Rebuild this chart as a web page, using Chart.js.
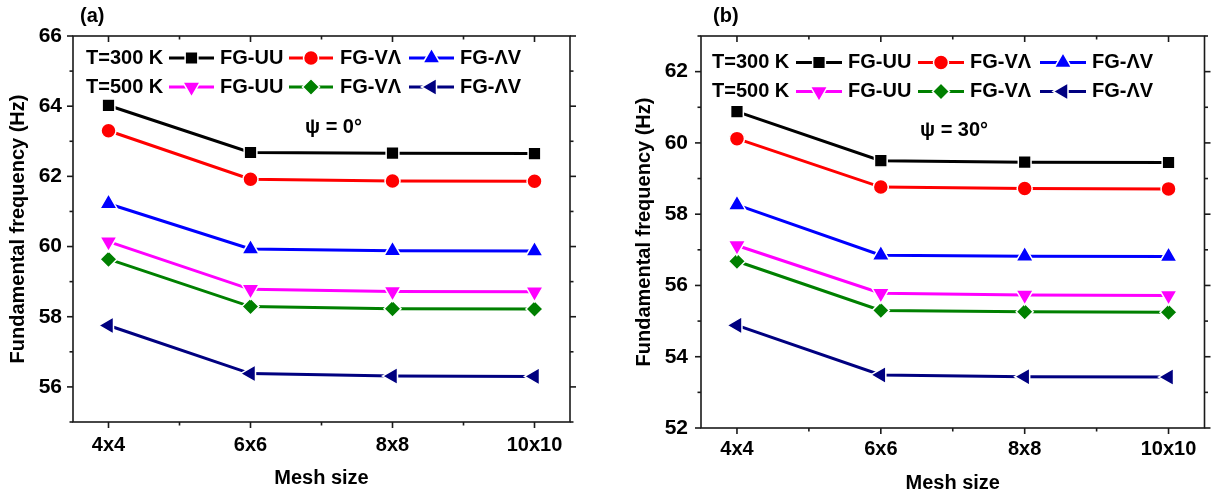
<!DOCTYPE html>
<html><head><meta charset="utf-8">
<script src="https://cdn.jsdelivr.net/npm/chart.js@4.4.0/dist/chart.umd.min.js"></script>
<style>
html,body{margin:0;padding:0;background:#fff;}
#wrap{position:relative;width:1216px;height:496px;overflow:hidden;}
.box{position:absolute;top:0;height:496px;width:608px;}
</style></head><body>
<div id="wrap">
<div class="box" style="left:0"><canvas id="ca" width="608" height="496"></canvas></div>
<div class="box" style="left:608px"><canvas id="cb" width="608" height="496"></canvas></div>
</div>
<script>
// ---------- data ----------
const meshSizes = ['4x4', '6x6', '8x8', '10x10'];
const meshIndex = [0, 1, 2, 3];
const seriesNames = ['FG-UU', 'FG-V\u039B', 'FG-\u039BV'];
const tempLabels = ['T=300 K', 'T=500 K'];

// panel (a), psi = 0 deg
const a_UU_300 = [64.02, 62.68, 62.66, 62.65];
const a_VL_300 = [63.30, 61.92, 61.87, 61.86];
const a_LV_300 = [61.22, 59.93, 59.88, 59.87];
const a_UU_500 = [60.14, 58.78, 58.72, 58.71];
const a_VL_500 = [59.64, 58.29, 58.23, 58.22];
const a_LV_500 = [57.75, 56.38, 56.31, 56.30];

// panel (b), psi = 30 deg
const b_UU_300 = [60.88, 59.50, 59.46, 59.45];
const b_VL_300 = [60.12, 58.76, 58.72, 58.71];
const b_LV_300 = [58.26, 56.85, 56.82, 56.81];
const b_UU_500 = [57.12, 55.78, 55.73, 55.72];
const b_VL_500 = [56.68, 55.30, 55.26, 55.25];
const b_LV_500 = [54.88, 53.49, 53.44, 53.43];

// axes
const xRange = [-0.25, 3.25];
const xMinor = [0.5, 1.5, 2.5];
const yRangeA = [55, 66];
const yMajorA = [56, 58, 60, 62, 64, 66];
const yMinorA = [55, 57, 59, 61, 63, 65];
const yRangeB = [52, 63];
const yMajorB = [52, 54, 56, 58, 60, 62];
const yMinorB = [53, 55, 57, 59, 61, 63];

// ---------- styles ----------
const FONT = '"Liberation Sans", Arial, Helvetica, sans-serif';
const styles = [
  {color: '#000000', pointStyle: 'rect', radius: 9, rotation: 0},
  {color: '#ff0000', pointStyle: 'circle', radius: 7.5, rotation: 0},
  {color: '#0000ff', pointStyle: 'triangle', radius: 10, rotation: 0},
  {color: '#ff00ff', pointStyle: 'triangle', radius: 10, rotation: 180},
  {color: '#008000', pointStyle: 'rectRot', radius: 8.5, rotation: 0},
  {color: '#000080', pointStyle: 'triangle', radius: 10, rotation: 270}
];

function makeDatasets(list) {
  return list.map((vals, k) => ({
    label: seriesNames[k % 3] + ' ' + tempLabels[Math.floor(k / 3)],
    data: vals.map((v, i) => ({x: meshIndex[i], y: v})),
    borderColor: styles[k].color,
    backgroundColor: styles[k].color,
    borderWidth: 3,
    pointStyle: styles[k].pointStyle,
    pointRadius: styles[k].radius,
    pointHoverRadius: styles[k].radius,
    pointRotation: styles[k].rotation,
    pointBorderColor: '#ffffff',
    pointBorderWidth: 1.5,
    tension: 0,
    clip: false
  }));
}

function drawMarker(ctx, st, x, y) {
  ctx.save();
  ctx.fillStyle = st.color;
  ctx.strokeStyle = '#ffffff';
  ctx.lineWidth = 1.5;
  if (Chart.helpers && Chart.helpers.drawPoint) {
    Chart.helpers.drawPoint(ctx, {pointStyle: st.pointStyle, rotation: st.rotation, radius: st.radius, borderWidth: 1.5}, x, y);
  } else {
    ctx.beginPath();
    ctx.arc(x, y, st.radius, 0, Math.PI * 2);
    ctx.fill(); ctx.stroke();
  }
  ctx.restore();
}

function decorPlugin(cfg) {
  return {
    id: 'decor',
    afterDraw(chart) {
      const ctx = chart.ctx, ca = chart.chartArea, xs = chart.scales.x, ys = chart.scales.y;
      ctx.save();
      ctx.strokeStyle = '#1a1a1a';
      ctx.lineWidth = 1.6;
      ctx.strokeRect(ca.left, ca.top, ca.right - ca.left, ca.bottom - ca.top);
      const seg = (x1, y1, x2, y2) => { ctx.beginPath(); ctx.moveTo(x1, y1); ctx.lineTo(x2, y2); ctx.stroke(); };
      meshIndex.forEach(v => { const p = xs.getPixelForValue(v); seg(p, ca.bottom, p, ca.bottom + 6); seg(p, ca.top, p, ca.top + 6); });
      xMinor.forEach(v => { const p = xs.getPixelForValue(v); seg(p, ca.bottom, p, ca.bottom + 3.5); seg(p, ca.top, p, ca.top + 3.5); });
      cfg.yMajor.forEach(v => { const p = ys.getPixelForValue(v); seg(ca.left - 6, p, ca.left, p); seg(ca.right, p, ca.right + 6, p); });
      cfg.yMinor.forEach(v => { const p = ys.getPixelForValue(v); seg(ca.left - 3.5, p, ca.left, p); seg(ca.right, p, ca.right + 3.5, p); });

      // legend
      ctx.font = 'bold 20px ' + FONT;
      ctx.fillStyle = '#000';
      ctx.textBaseline = 'middle';
      ctx.textAlign = 'left';
      const L = cfg.legend;
      for (let r = 0; r < 2; r++) {
        const yy = ca.top + L.rows[r];
        ctx.fillStyle = '#000';
        ctx.fillText(tempLabels[r], ca.left + L.label, yy);
        for (let j = 0; j < 3; j++) {
          const st = styles[r * 3 + j];
          const s0 = ca.left + L.segs[j][0], s1 = ca.left + L.segs[j][1];
          ctx.strokeStyle = st.color; ctx.lineWidth = 3;
          seg(s0, yy, s1, yy);
          drawMarker(ctx, st, (s0 + s1) / 2, yy);
          ctx.fillStyle = '#000';
          ctx.fillText(seriesNames[j], ca.left + L.names[j], yy);
        }
      }
      // annotations
      ctx.fillStyle = '#000';
      ctx.font = 'bold 20px ' + FONT;
      ctx.fillText(cfg.tag, cfg.tagX, cfg.tagY);
      ctx.fillText(cfg.psi, cfg.psiX, cfg.psiY);
      ctx.restore();
    }
  };
}

function makeChart(id, datasets, o) {
  return new Chart(document.getElementById(id), {
    type: 'line',
    data: {datasets: datasets},
    options: {
      responsive: false,
      animation: false,
      layout: {padding: {left: 0, top: 36, right: o.padRight, bottom: 0}},
      plugins: {legend: {display: false}, tooltip: {enabled: false}},
      scales: {
        x: {
          type: 'linear', min: xRange[0], max: xRange[1],
          afterFit(s) { s.height = o.xH; },
          afterBuildTicks(s) { s.ticks = meshIndex.map(v => ({value: v})); },
          grid: {display: false, drawTicks: false},
          border: {display: false},
          ticks: {color: '#000', font: {family: FONT, size: 20, weight: 'bold'}, padding: o.xPad, maxRotation: 0, autoSkip: false,
            callback: (v) => meshSizes[meshIndex.indexOf(v)] || ''},
          title: {display: true, text: 'Mesh size', color: '#000', font: {family: FONT, size: 20, weight: 'bold'}, padding: {top: 0, bottom: o.xTitlePad}}
        },
        y: {
          type: 'linear', min: o.yRange[0], max: o.yRange[1],
          afterFit(s) { s.width = o.yW; },
          afterBuildTicks(s) { s.ticks = o.yMajor.map(v => ({value: v})); },
          grid: {display: false, drawTicks: false},
          border: {display: false},
          ticks: {color: '#000', font: {family: FONT, size: 21, weight: 'bold'}, padding: o.yPad, callback: (v) => String(v)},
          title: {display: true, text: 'Fundamental frequency (Hz)', color: '#000', font: {family: FONT, size: 20, weight: 'bold'}, padding: {top: o.yTitlePad, bottom: 0}}
        }
      }
    },
    plugins: [decorPlugin(o)]
  });
}

makeChart('ca', makeDatasets([a_UU_300, a_VL_300, a_LV_300, a_UU_500, a_VL_500, a_LV_500]), {
  padRight: 38, xH: 74, yW: 73, xPad: 11, yPad: 11, xTitlePad: 6, yTitlePad: 6.5,
  yRange: yRangeA, yMajor: yMajorA, yMinor: yMinorA,
  legend: {rows: [22, 51], label: 13, segs: [[96, 141], [216, 260], [336, 381]], names: [147, 267, 387]},
  tag: '(a)', tagX: 80, tagY: 16, psi: '\u03C8 = 0\u00B0', psiX: 305, psiY: 127
});
makeChart('cb', makeDatasets([b_UU_300, b_VL_300, b_LV_300, b_UU_500, b_VL_500, b_LV_500]), {
  padRight: 6, xH: 68, yW: 93, xPad: 9, yPad: 13, xTitlePad: 1, yTitlePad: 24.5,
  yRange: yRangeB, yMajor: yMajorB, yMinor: yMinorB,
  legend: {rows: [26.5, 55.5], label: 11, segs: [[95, 141], [217, 263], [339, 385]], names: [147, 269, 391]},
  tag: '(b)', tagX: 105, tagY: 16, psi: '\u03C8 = 30\u00B0', psiX: 312, psiY: 130
});
</script>
</body></html>
